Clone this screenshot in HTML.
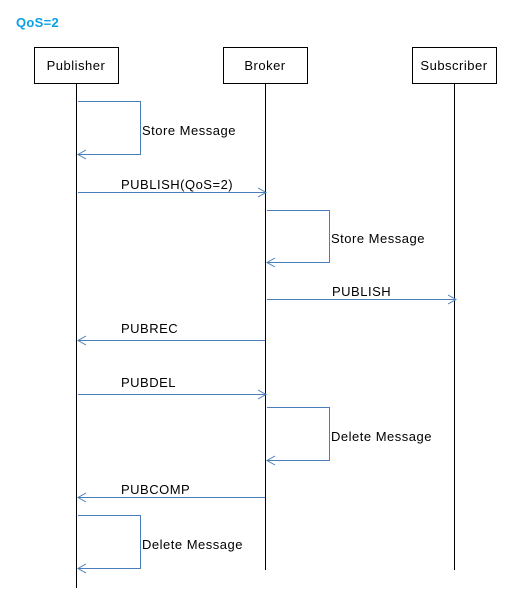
<!DOCTYPE html>
<html><head><meta charset="utf-8"><style>
html,body{margin:0;padding:0;background:#fff;}
svg text{font-family:"Liberation Sans",sans-serif;font-size:13px;letter-spacing:0.5px;fill:#000;}
</style></head><body>
<svg width="517" height="601" viewBox="0 0 517 601" xmlns="http://www.w3.org/2000/svg">
<text x="16" y="27" style="fill:#0aa0e6;font-weight:bold;font-size:13px;letter-spacing:0.3px">QoS=2</text>
<g fill="#fff" stroke="#000" stroke-width="1">
<rect x="34.5" y="47.5" width="84" height="36"/>
<rect x="223.5" y="47.5" width="84" height="36"/>
<rect x="412.5" y="47.5" width="84" height="36"/>
</g>
<text x="76" y="70" text-anchor="middle">Publisher</text>
<text x="265" y="70" text-anchor="middle">Broker</text>
<text x="454" y="70" text-anchor="middle">Subscriber</text>
<g stroke="#000" stroke-width="1">
<line x1="76.5" y1="84" x2="76.5" y2="588"/>
<line x1="265.5" y1="84" x2="265.5" y2="570"/>
<line x1="454.5" y1="84" x2="454.5" y2="570"/>
</g>
<g stroke="#4a7ebb" stroke-width="1" fill="none">
<polyline points="78,101.5 140.5,101.5 140.5,154.5 78,154.5"/>
<polyline points="86,150 78,154.5 86,159"/>
<line x1="78" y1="192.5" x2="266" y2="192.5"/>
<polyline points="258,188 266,192.5 258,197"/>
<polyline points="267,210.5 329.5,210.5 329.5,262.5 267,262.5"/>
<polyline points="275,258 267,262.5 275,267"/>
<line x1="267" y1="299.5" x2="456" y2="299.5"/>
<polyline points="448,295 456,299.5 448,304"/>
<line x1="265" y1="340.5" x2="78" y2="340.5"/>
<polyline points="86,336 78,340.5 86,345"/>
<line x1="78" y1="394.5" x2="266" y2="394.5"/>
<polyline points="258,390 266,394.5 258,399"/>
<polyline points="267,407.5 329.5,407.5 329.5,460.5 267,460.5"/>
<polyline points="275,456 267,460.5 275,465"/>
<line x1="265" y1="497.5" x2="78" y2="497.5"/>
<polyline points="86,493 78,497.5 86,502"/>
<polyline points="78,515.5 140.5,515.5 140.5,568.5 78,568.5"/>
<polyline points="86,564 78,568.5 86,573"/>
</g>
<text x="142" y="135">Store Message</text>
<text x="121" y="189">PUBLISH(QoS=2)</text>
<text x="331" y="243">Store Message</text>
<text x="332" y="296">PUBLISH</text>
<text x="121" y="333">PUBREC</text>
<text x="121" y="387">PUBDEL</text>
<text x="331" y="441">Delete Message</text>
<text x="121" y="494">PUBCOMP</text>
<text x="142" y="549">Delete Message</text>
</svg>
</body></html>
